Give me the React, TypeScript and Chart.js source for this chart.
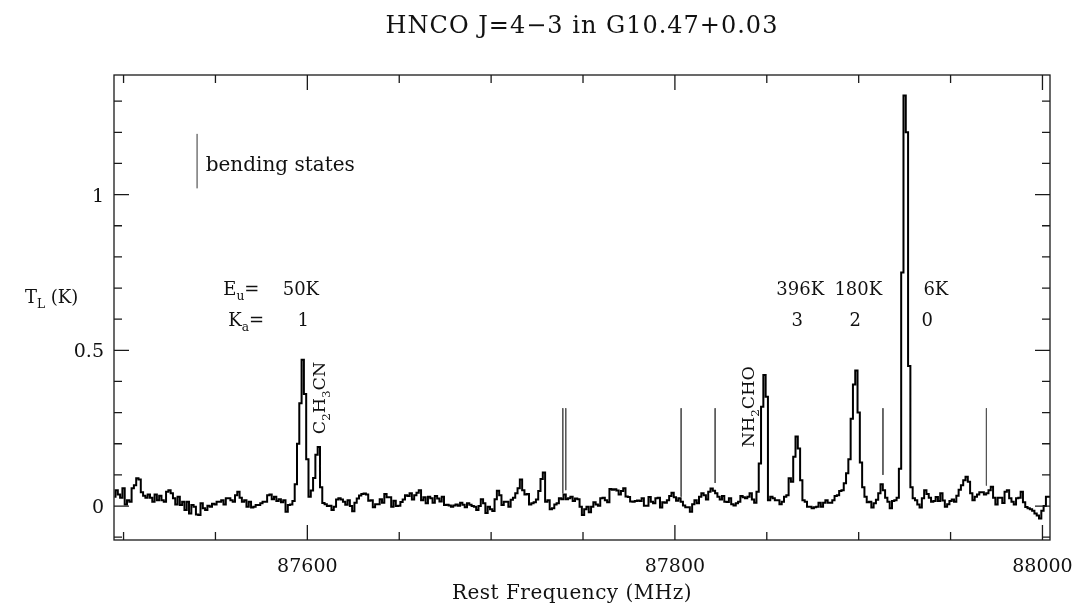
import React, { useEffect, useRef } from 'react';
import { Chart, registerables } from 'chart.js';

Chart.register(...registerables);

// ---------- data ----------
const FREQ_START = 87495; // MHz, centre of first channel
const CHANNEL_WIDTH = 1.25; // MHz

// T_L (K) per channel
const T_SEG_A = [
  0.030, 0.051, 0.037, 0.027, 0.057, 0.005, 0.019, 0.014, 0.057, 0.067,
  0.089, 0.085, 0.044, 0.033, 0.027, 0.037, 0.027, 0.014, 0.037, 0.019,
  0.033, 0.019, 0.014, 0.046, 0.051, 0.041, 0.025, 0.005, 0.030, 0.003,
  0.014, -0.013, 0.014, -0.024, 0.003, -0.002, -0.027, -0.029, 0.009, -0.007,
  -0.013, 0.001, -0.002, 0.007, 0.005, 0.014, 0.014, 0.019, 0.005, 0.025,
  0.025, 0.019, 0.014, 0.035, 0.046, 0.027, 0.014, 0.019, -0.002, 0.014,
  -0.005, -0.002, 0.003, 0.003, 0.009, 0.014, 0.014, 0.035, 0.037, 0.022,
  0.030, 0.016, 0.022, 0.012, 0.019, -0.018, 0.003, 0.005, 0.016, 0.070,
];
const T_SEG_B = [
  0.200, 0.330, 0.470, 0.360, 0.150, 0.030, 0.050, 0.090, 0.165, 0.190,
  0.060, 0.010, 0.006, 0.000, 0.001, -0.013, -0.002, 0.021, 0.025, 0.021,
  0.014, 0.004, 0.019, 0.000, -0.017, 0.011, 0.024, 0.034, 0.039, 0.040,
  0.037, 0.017, 0.019, -0.004, 0.006, 0.006, 0.022, 0.011, 0.039, 0.028,
  0.028, -0.002, 0.017, 0.000, 0.001, 0.013, 0.021, 0.035, 0.032, 0.041,
  0.021, 0.035, 0.043, 0.051, 0.019, 0.028, 0.009, 0.030, 0.025, 0.011,
  0.032, 0.024, 0.015, 0.030, 0.003, 0.004, 0.002, -0.002, 0.002, 0.005,
  0.001, 0.011, 0.004, -0.004, 0.009, 0.004, 0.000, -0.002, -0.013, 0.000,
];
const T_SEG_C = [
  0.022, 0.009, -0.022, -0.002, -0.010, -0.016, 0.022, 0.049, 0.035, 0.003,
  0.014, 0.014, -0.002, 0.020, 0.027, 0.041, 0.057, 0.085, 0.051, 0.037,
  0.039, 0.005, 0.009, 0.012, 0.021, 0.048, 0.087, 0.108, 0.014, 0.019,
  -0.010, -0.007, 0.005, 0.009, 0.025, 0.022, 0.037, 0.022, 0.025, 0.030,
  0.016, 0.024, 0.022, -0.002, -0.029, -0.010, -0.002, -0.020, -0.002, 0.012,
  0.005, 0.001, 0.025, 0.027, 0.019, 0.012, 0.055, 0.052, 0.054, 0.050,
  0.037, 0.048, 0.057, 0.031, 0.029, 0.015, 0.014, 0.016, 0.018, 0.016,
  0.025, 0.001, 0.001, 0.029, 0.014, 0.009, 0.025, 0.027, -0.005, 0.012,
];
const T_SEG_D = [
  0.011, 0.019, 0.032, 0.043, 0.028, 0.017, 0.025, 0.014, 0.002, -0.004,
  -0.004, -0.018, 0.006, 0.019, 0.009, 0.030, 0.041, 0.035, 0.021, 0.046,
  0.056, 0.049, 0.041, 0.030, 0.021, 0.032, 0.014, 0.013, 0.025, 0.006,
  0.002, 0.009, 0.014, 0.032, 0.028, 0.025, 0.030, 0.041, 0.021, 0.011,
  0.046, 0.137, 0.319, 0.421, 0.351, 0.019, 0.030, 0.025, 0.019, 0.019,
  0.006, 0.014, 0.030, 0.035, 0.089, 0.078, 0.158, 0.223, 0.185, 0.083,
  0.019, 0.014, -0.002, -0.002, -0.007, -0.004, -0.002, 0.011, -0.002, 0.011,
  0.019, 0.011, 0.011, 0.019, 0.032, 0.035, 0.048, 0.051, 0.073, 0.105,
  0.150, 0.280, 0.390, 0.435, 0.300, 0.140, 0.060, 0.030,
];
const T_SEG_E = [
  0.012, 0.014, -0.005, 0.009, 0.020, 0.041, 0.070, 0.051, 0.027, 0.014,
  -0.007, 0.016, 0.019, 0.027, 0.120, 0.750, 1.318, 1.200, 0.450, 0.060,
  0.025, 0.019, 0.005, -0.005, 0.025, 0.051, 0.039, 0.027, 0.014, 0.016,
  0.029, 0.016, 0.041, 0.018, -0.002, 0.006, 0.016, 0.021, 0.014, 0.033,
  0.052, 0.067, 0.083, 0.094, 0.078, 0.041, 0.019, 0.030, 0.037, 0.044,
  0.044, 0.037, 0.041, 0.051, 0.062, 0.027, 0.005, 0.027, 0.027, 0.010,
  0.046, 0.051, 0.025, 0.014, 0.005, 0.025, 0.027, 0.046, 0.012, -0.003,
  -0.007, -0.010, -0.015, -0.024, -0.030, -0.040, -0.015, 0.000, 0.030, 0.030,
  0.030,
];

// bending-state markers (MHz) and the lower end of each marker (K)
const BENDING_FREQ = [87739.0, 87740.6, 87803.4, 87821.9, 87913.2, 87969.5];
const BENDING_BOTTOM = [0.041, 0.051, 0.030, 0.074, 0.100, 0.066];
const BENDING_TOP = 0.314;
const LEGEND_MARK_FREQ = 87540;
const LEGEND_MARK_RANGE = [1.02, 1.195];

// axes
const X_MIN = 87494.8;
const X_MAX = 88004.1;
const Y_MIN = -0.109;
const Y_MAX = 1.384;
const X_TICK_LABELS = [87600, 87800, 88000];
const X_MINOR_STEP = 50;
const Y_TICK_LABELS = [0, 0.5, 1];
const Y_MINOR_STEP = 0.1;

const TITLE = 'HNCO J=4\u22123 in G10.47+0.03';
const X_TITLE = 'Rest Frequency (MHz)';

type Part = [string, boolean];
type Note = { parts: Part[]; f: number; t: number; align: 'left' | 'center' | 'right'; size: number; rotate?: boolean };

const NOTES: Note[] = [
  { parts: [['bending states', false]], f: 87544.7, t: 1.077, align: 'left', size: 20 },
  { parts: [['E', false], ['u', true], ['=', false]], f: 87554.3, t: 0.678, align: 'left', size: 18 },
  { parts: [['50K', false]], f: 87586.6, t: 0.678, align: 'left', size: 18 },
  { parts: [['K', false], ['a', true], ['=', false]], f: 87557.0, t: 0.578, align: 'left', size: 18 },
  { parts: [['1', false]], f: 87597.8, t: 0.578, align: 'center', size: 18 },
  { parts: [['396K', false]], f: 87868.2, t: 0.678, align: 'center', size: 18 },
  { parts: [['180K', false]], f: 87899.8, t: 0.678, align: 'center', size: 18 },
  { parts: [['6K', false]], f: 87942.0, t: 0.678, align: 'center', size: 18 },
  { parts: [['3', false]], f: 87866.5, t: 0.578, align: 'center', size: 18 },
  { parts: [['2', false]], f: 87898.1, t: 0.578, align: 'center', size: 18 },
  { parts: [['0', false]], f: 87937.3, t: 0.578, align: 'center', size: 18 },
  { parts: [['C', false], ['2', true], ['H', false], ['3', true], ['CN', false]], f: 87609.5, t: 0.347, align: 'center', size: 17.5, rotate: true },
  { parts: [['NH', false], ['2', true], ['CHO', false]], f: 87842.9, t: 0.319, align: 'center', size: 17.5, rotate: true },
];

const FONT = '"DejaVu Serif", "Liberation Serif", serif';
const INK = '#111';

function drawRich(ctx: CanvasRenderingContext2D, parts: Part[], x: number, y: number, size: number, align: string) {
  const sub = size * 0.68;
  const widths = parts.map(([t, s]) => {
    ctx.font = `${s ? sub : size}px ${FONT}`;
    return ctx.measureText(t).width;
  });
  const total = widths.reduce((a, b) => a + b, 0);
  let cx = align === 'left' ? x : align === 'center' ? x - total / 2 : x - total;
  ctx.textAlign = 'left';
  ctx.textBaseline = 'alphabetic';
  parts.forEach(([t, s], k) => {
    ctx.font = `${s ? sub : size}px ${FONT}`;
    ctx.fillText(t, cx, s ? y + size * 0.3 : y);
    cx += widths[k];
  });
}

const framePlugin = {
  id: 'pgFrame',
  afterDraw(chart: any) {
    const { ctx, chartArea: a, scales } = chart;
    const xs = scales.x;
    const ys = scales.y;
    ctx.save();
    ctx.strokeStyle = '#1a1a1a';
    ctx.lineWidth = 1.3;
    ctx.strokeRect(a.left, a.top, a.right - a.left, a.bottom - a.top);
    ctx.beginPath();
    for (let v = Math.ceil(X_MIN / X_MINOR_STEP) * X_MINOR_STEP; v <= X_MAX; v += X_MINOR_STEP) {
      const px = xs.getPixelForValue(v);
      const len = X_TICK_LABELS.includes(v) ? 15 : 8;
      ctx.moveTo(px, a.bottom);
      ctx.lineTo(px, a.bottom - len);
      ctx.moveTo(px, a.top);
      ctx.lineTo(px, a.top + len);
    }
    for (let k = Math.ceil(Y_MIN / Y_MINOR_STEP); k * Y_MINOR_STEP <= Y_MAX; k++) {
      const v = k * Y_MINOR_STEP;
      const py = ys.getPixelForValue(v);
      const major = Y_TICK_LABELS.some((m) => Math.abs(m - v) < 1e-6);
      const len = major ? 15 : 8;
      ctx.moveTo(a.left, py);
      ctx.lineTo(a.left + len, py);
      ctx.moveTo(a.right, py);
      ctx.lineTo(a.right - len, py);
    }
    ctx.stroke();

    ctx.fillStyle = INK;
    // tick labels
    ctx.font = `19px ${FONT}`;
    ctx.textBaseline = 'alphabetic';
    ctx.textAlign = 'center';
    X_TICK_LABELS.forEach((v) => ctx.fillText(String(v), xs.getPixelForValue(v), a.bottom + 32));
    ctx.textAlign = 'right';
    Y_TICK_LABELS.forEach((v) => ctx.fillText(String(v), a.left - 10, ys.getPixelForValue(v) + 7));

    // titles
    ctx.textAlign = 'center';
    ctx.font = `24px ${FONT}`;
    (ctx as any).letterSpacing = '1px';
    ctx.fillText(TITLE, 582, 33);
    (ctx as any).letterSpacing = '0.5px';
    ctx.font = `20px ${FONT}`;
    ctx.fillText(X_TITLE, 572, 599);
    (ctx as any).letterSpacing = '0px';
    drawRich(ctx, [['T', false], ['L', true], [' (K)', false]], 25, 303, 18, 'left');

    // annotations
    NOTES.forEach((n) => {
      const px = xs.getPixelForValue(n.f);
      const py = ys.getPixelForValue(n.t);
      if (n.rotate) {
        ctx.save();
        ctx.translate(px, py);
        ctx.rotate(-Math.PI / 2);
        drawRich(ctx, n.parts, 0, 0, n.size, 'center');
        ctx.restore();
      } else {
        drawRich(ctx, n.parts, px, py, n.size, n.align);
      }
    });
    ctx.restore();
  },
};

export default function App() {
  const ref = useRef<HTMLCanvasElement | null>(null);
  useEffect(() => {
    if (!ref.current) return;
    const tAll = [...T_SEG_A, ...T_SEG_B, ...T_SEG_C, ...T_SEG_D, ...T_SEG_E];
    const spectrum = tAll.map((t, i) => ({ x: FREQ_START + CHANNEL_WIDTH * i, y: t }));
    const markers: { x: number; y: number | null }[] = [];
    BENDING_FREQ.forEach((f, k) => {
      markers.push({ x: f, y: BENDING_TOP }, { x: f, y: BENDING_BOTTOM[k] }, { x: f, y: null });
    });
    const legendMark = LEGEND_MARK_RANGE.map((t) => ({ x: LEGEND_MARK_FREQ, y: t }));
    const chart = new Chart(ref.current, {
      type: 'line',
      data: {
        datasets: [
          {
            data: spectrum as any,
            borderColor: '#000',
            borderWidth: 2,
            pointRadius: 0,
            stepped: 'middle',
            fill: false,
          },
          {
            data: markers as any,
            borderColor: '#555',
            borderWidth: 1,
            pointRadius: 0,
            spanGaps: false,
            fill: false,
          },
          {
            data: legendMark as any,
            borderColor: '#333',
            borderWidth: 1,
            pointRadius: 0,
            fill: false,
          },
        ],
      },
      options: {
        animation: false,
        responsive: false,
        maintainAspectRatio: false,
        events: [],
        layout: { padding: { left: 114, top: 75, right: 23, bottom: 64 } },
        plugins: { legend: { display: false }, tooltip: { enabled: false }, title: { display: false } },
        scales: {
          x: { type: 'linear', min: X_MIN, max: X_MAX, display: false },
          y: { type: 'linear', min: Y_MIN, max: Y_MAX, display: false },
        },
      },
      plugins: [framePlugin],
    });
    return () => chart.destroy();
  }, []);
  return (
    <div style={{ position: 'absolute', left: 0, top: 0, width: 1073, height: 604, background: '#fff' }}>
      <canvas ref={ref} width={1073} height={604} style={{ width: 1073, height: 604, display: 'block' }} />
    </div>
  );
}
